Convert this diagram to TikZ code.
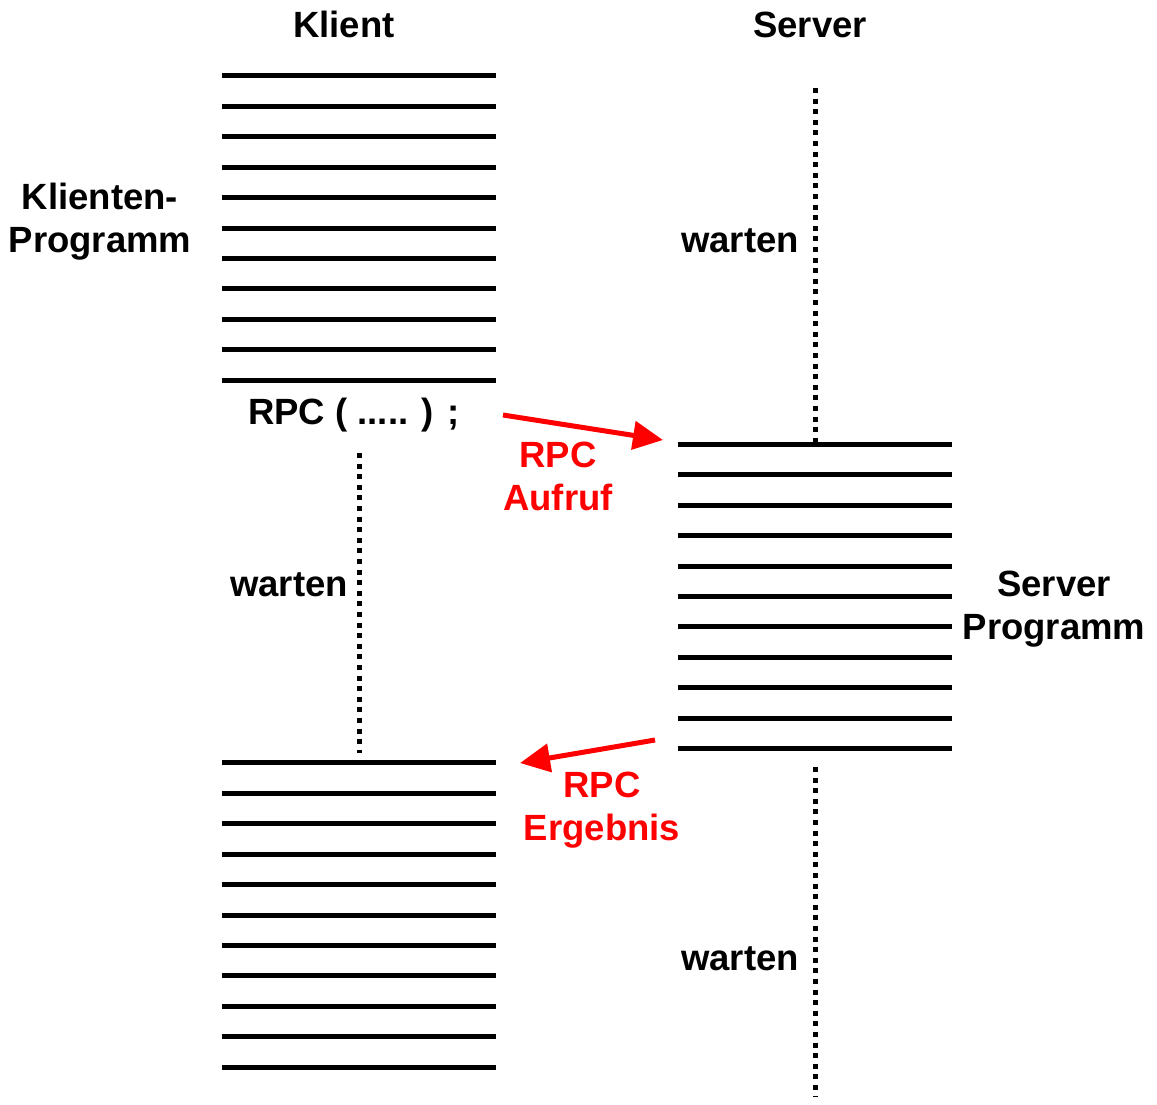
\documentclass[tikz,border=0pt]{standalone}
\usepackage{fontspec}
\setmainfont{Liberation Sans}
\usetikzlibrary{arrows.meta,calc}
\begin{document}
\begin{tikzpicture}[x=1pt,y=-1pt,
  lbl/.style={font=\fontsize{36.5}{43}\selectfont\bfseries, inner sep=0pt, align=center},
  redlbl/.style={lbl, text=red},
  rule/.style={line width=5pt},
  wait/.style={line width=5pt, dash pattern=on 5pt off 5.6pt},
  msg/.style={draw=red, line width=5pt, -{Triangle[length=30pt,width=28pt,fill=red]}},
  block/.style={minimum width=274pt, minimum height=304pt, inner sep=0pt, draw=none}]

\useasboundingbox (0,0) rectangle (1157,1104);

% program blocks (each a stack of 11 code lines)
\node[block] (kA) at (359,228) {};
\node[block] (sv) at (815,596.5) {};
\node[block] (kB) at (359,915) {};
\foreach \b in {kA,sv,kB}{
  \foreach \i in {0,...,10}{
    \draw[rule] ($(\b.north west)!\i/10!(\b.south west)$) -- ($(\b.north east)!\i/10!(\b.south east)$);
  }
}

% column headings
\node[lbl, anchor=base] (hK) at (344,37) {Klient};
\node[lbl, anchor=base] (hS) at (810,37) {Server};

% side labels
\node[lbl] (lK) at (100,222) {Klienten-\\Programm};
\node[lbl] (lS) at (1054,609) {Server\\Programm};
\node[lbl, anchor=base] (call) at (354,424) {RPC ( ..... ) ;};

% waiting phases
\coordinate (w1a) at (815,88);
\draw[wait] (w1a) -- (sv.north);
\coordinate (w2a) at (359,453);
\coordinate (w2b) at (359,753);
\draw[wait] (w2a) -- (w2b);
\coordinate (w3a) at (815,767);
\coordinate (w3b) at (815,1097);
\draw[wait] (w3a) -- (w3b);
\node[lbl, anchor=base east] (wt1) at (799,252) {warten};
\node[lbl, anchor=base east] (wt2) at (348,596) {warten};
\node[lbl, anchor=base east] (wt3) at (799,970) {warten};

% messages
\coordinate (m1a) at (503,415);
\coordinate (m1b) at (663,440);
\draw[msg] (m1a) -- (m1b);
\node[redlbl] (lm1) at (558,476) {RPC\\Aufruf};
\coordinate (m2a) at (655,740);
\coordinate (m2b) at (520,763);
\draw[msg] (m2a) -- (m2b);
\node[redlbl] (lm2) at (602,810) {RPC\\Ergebnis};
\end{tikzpicture}
\end{document}
